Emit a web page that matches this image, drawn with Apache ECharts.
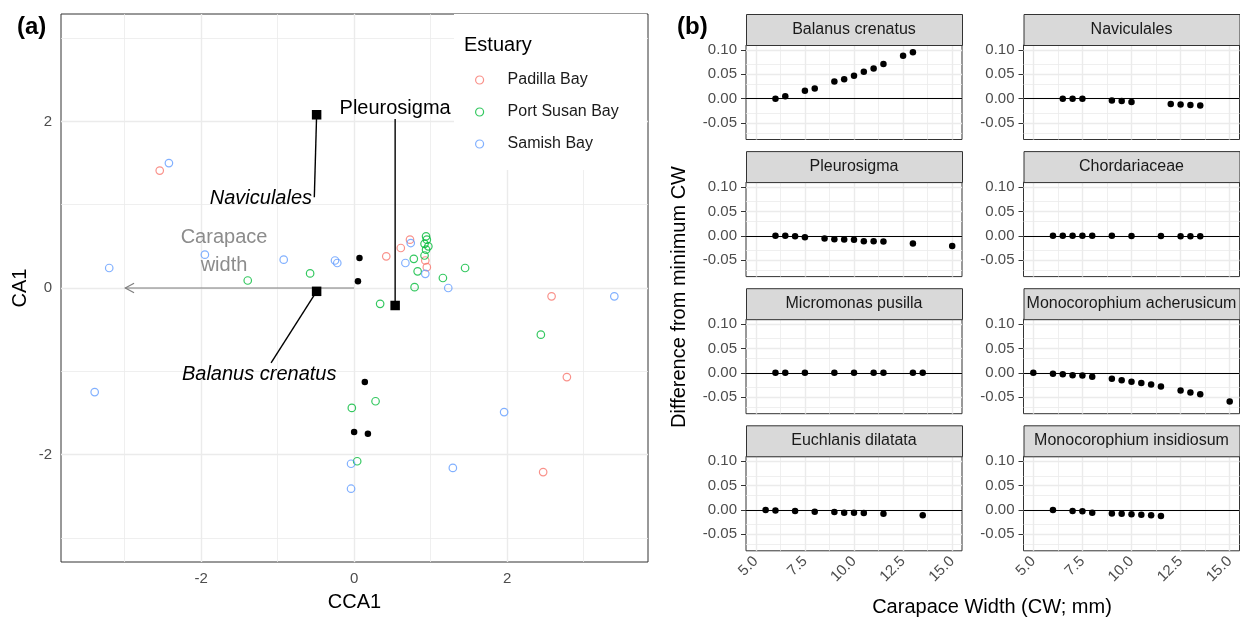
<!DOCTYPE html>
<html><head><meta charset="utf-8">
<script src="https://cdn.jsdelivr.net/npm/echarts@6/dist/echarts.min.js"></script>
<style>html,body{margin:0;padding:0;background:#fff}#c{width:1240px;height:617px}</style>
</head><body><div id="c"></div>
<script>
// ---------- Panel (a) data ----------
const estuaryNames = ['Padilla Bay', 'Port Susan Bay', 'Samish Bay'];
const padillaBay = [[-2.54,1.41],[0.42,0.38],[0.61,0.48],[0.73,0.58],[0.93,0.33],[0.95,0.25],[2.58,-0.10],[2.78,-1.07],[2.47,-2.21]];
const portSusanBay = [[-1.39,0.09],[-0.575,0.175],[0.78,0.35],[0.83,0.20],[0.79,0.01],[0.34,-0.19],[0.94,0.62],[0.95,0.58],[0.92,0.53],[0.97,0.50],[0.94,0.46],[0.92,0.39],[1.16,0.12],[1.45,0.24],[2.44,-0.56],[0.28,-1.36],[-0.03,-1.44],[0.04,-2.08]];
const samishBay = [[-2.42,1.50],[-3.20,0.24],[-1.95,0.40],[-0.92,0.34],[-0.25,0.33],[-0.22,0.30],[0.74,0.54],[0.67,0.30],[0.93,0.17],[1.23,0.00],[3.40,-0.10],[-3.39,-1.25],[1.96,-1.49],[1.29,-2.16],[-0.04,-2.11],[-0.04,-2.41]];
const sitePoints = [[0.07,0.36],[0.05,0.08],[0.14,-1.13],[0.00,-1.73],[0.18,-1.75]];
const speciesNames = ['Naviculales', 'Pleurosigma', 'Balanus crenatus'];
const speciesScores = [[-0.49,2.08],[0.536,-0.21],[-0.49,-0.04]];
const speciesSegmentEnds = [[-0.52,1.09],[0.536,2.03],[-1.085,-0.90]];
const speciesLabelPos = [[-0.55,1.07],[0.536,2.15],[-1.24,-1.04]];
const speciesItalic = [true, false, true];
const speciesAlign = ['right', 'center', 'center'];
const envVectorName = 'Carapace\nwidth';
const envVector = [-2.99, 0];
const envLabelPos = [-1.70, 0.44];
const aXTicks = [-2, 0, 2];
const aYTicks = [-2, 0, 2];
const aXMinor = [-3, -1, 1, 3];
const aYMinor = [-3, -1, 1, 3];

// ---------- Panel (b) data ----------
const facetNames = ['Balanus crenatus','Naviculales','Pleurosigma','Chordariaceae','Micromonas pusilla','Monocorophium acherusicum','Euchlanis dilatata','Monocorophium insidiosum'];
const balanusCW = [6,6.5,7.5,8,9,9.5,10,10.5,11,11.5,12.5,13];
const balanusDiff = [0,0.005,0.016,0.021,0.035,0.040,0.047,0.055,0.062,0.071,0.088,0.095];
const naviculalesCW = [6.5,7,7.5,9,9.5,10,12,12.5,13,13.5];
const naviculalesDiff = [0,0,0,-0.004,-0.005,-0.007,-0.011,-0.012,-0.013,-0.014];
const pleurosigmaCW = [6,6.5,7,7.5,8.5,9,9.5,10,10.5,11,11.5,13,15];
const pleurosigmaDiff = [0,0,-0.001,-0.003,-0.0055,-0.007,-0.0075,-0.008,-0.011,-0.011,-0.012,-0.016,-0.021];
const chordariaceaeCW = [6,6.5,7,7.5,8,9,10,11.5,12.5,13,13.5];
const chordariaceaeDiff = [0,0,0,0,0,0,-0.0005,-0.0005,-0.001,-0.001,-0.001];
const micromonasCW = [6,6.5,7.5,9,10,11,11.5,13,13.5];
const micromonasDiff = [0,0,0,0,0,0,0,0,0];
const acherusicumCW = [5,6,6.5,7,7.5,8,9,9.5,10,10.5,11,11.5,12.5,13,13.5,15];
const acherusicumDiff = [0,-0.002,-0.003,-0.005,-0.0055,-0.008,-0.012,-0.015,-0.018,-0.021,-0.024,-0.028,-0.036,-0.040,-0.044,-0.0586];
const euchlanisCW = [5.5,6,7,8,9,9.5,10,10.5,11.5,13.5];
const euchlanisDiff = [0,-0.001,-0.002,-0.0035,-0.004,-0.0055,-0.0055,-0.006,-0.008,-0.011];
const insidiosumCW = [6,7,7.5,8,9,9.5,10,10.5,11,11.5];
const insidiosumDiff = [0,-0.002,-0.0025,-0.0055,-0.007,-0.008,-0.009,-0.010,-0.011,-0.0125];
const bXTicks = [5, 7.5, 10, 12.5, 15];
const bXMinor = [6.25, 8.75, 11.25, 13.75];
const bYTicks = [-0.05, 0, 0.05, 0.10];
const bYMinor = [-0.075, -0.025, 0.025, 0.075];

const facetData = [
  [balanusCW, balanusDiff], [naviculalesCW, naviculalesDiff],
  [pleurosigmaCW, pleurosigmaDiff], [chordariaceaeCW, chordariaceaeDiff],
  [micromonasCW, micromonasDiff], [acherusicumCW, acherusicumDiff],
  [euchlanisCW, euchlanisDiff], [insidiosumCW, insidiosumDiff]
];

// ---------- styling / layout ----------
const FONT = '"Liberation Sans", Arial, sans-serif';
const estuaryColors = ['#F8766D', '#00BA38', '#619CFF'];
const BORDER = '#333333';
const GRIDC = '#EBEBEB';
const TICKLAB = '#4D4D4D';

const chart = echarts.init(document.getElementById('c'), null, {renderer: 'canvas'});

function gridLines(xMaj, xMin, yMaj, yMin, zeroLine) {
  const d = [];
  xMin.forEach(v => d.push({xAxis: v, lineStyle: {color: GRIDC, width: 0.8, type: 'solid'}}));
  yMin.forEach(v => d.push({yAxis: v, lineStyle: {color: GRIDC, width: 0.8, type: 'solid'}}));
  xMaj.forEach(v => d.push({xAxis: v, lineStyle: {color: GRIDC, width: 1.4, type: 'solid'}}));
  yMaj.forEach(v => d.push({yAxis: v, lineStyle: {color: GRIDC, width: 1.4, type: 'solid'}}));
  if (zeroLine) d.push({yAxis: 0, lineStyle: {color: '#000', width: 1.1, type: 'solid'}});
  return {silent: true, z: 1, symbol: ['none', 'none'], label: {show: false}, animation: false, data: d};
}

const grids = [{left: 61, top: 14, width: 587, height: 553, show: true, borderColor: BORDER, borderWidth: 1, backgroundColor: '#fff'}];
const xAxes = [{
  gridIndex: 0, type: 'value', min: -3.83, max: 3.84,
  name: 'CCA1', nameLocation: 'middle', nameGap: 30,
  nameTextStyle: {fontFamily: FONT, fontSize: 20, color: '#000'},
  axisLine: {show: false}, splitLine: {show: false},
  axisTick: {show: true, customValues: aXTicks, length: 5, lineStyle: {color: BORDER}},
  axisLabel: {customValues: aXTicks, fontFamily: FONT, fontSize: 15, color: TICKLAB, margin: 9}
}];
const yAxes = [{
  gridIndex: 0, type: 'value', min: -3.29, max: 3.29,
  name: 'CA1', nameLocation: 'middle', nameGap: 31, nameRotate: 90,
  nameTextStyle: {fontFamily: FONT, fontSize: 20, color: '#000'},
  axisLine: {show: false}, splitLine: {show: false},
  axisTick: {show: true, customValues: aYTicks, length: 5, lineStyle: {color: BORDER}},
  axisLabel: {customValues: aYTicks, fontFamily: FONT, fontSize: 15, color: TICKLAB, margin: 9}
}];

const series = [];
series.push({type: 'scatter', xAxisIndex: 0, yAxisIndex: 0, data: [], z: 1,
  markLine: gridLines(aXTicks, aXMinor, aYTicks, aYMinor, false)});

[padillaBay, portSusanBay, samishBay].forEach((arr, i) => {
  series.push({
    name: estuaryNames[i], type: 'scatter', xAxisIndex: 0, yAxisIndex: 0, data: arr,
    symbol: 'circle', symbolSize: 7.5, z: 3,
    itemStyle: {color: 'rgba(255,255,255,0)', borderColor: estuaryColors[i], borderWidth: 1.2, opacity: 0.8}
  });
});
series.push({type: 'scatter', xAxisIndex: 0, yAxisIndex: 0, data: sitePoints, symbol: 'circle', symbolSize: 6.5, z: 4, itemStyle: {color: '#000', opacity: 1}});

// carapace width vector (arrow)
series.push({
  type: 'custom', xAxisIndex: 0, yAxisIndex: 0, z: 4, silent: true,
  data: [[0, 0, envVector[0], envVector[1]]],
  renderItem: function (params, api) {
    const p1 = api.coord([api.value(0), api.value(1)]);
    const p2 = api.coord([api.value(2), api.value(3)]);
    const ang = Math.atan2(p2[1] - p1[1], p2[0] - p1[0]);
    const L = 10, A = 0.5;
    const h1 = [p2[0] - L * Math.cos(ang - A), p2[1] - L * Math.sin(ang - A)];
    const h2 = [p2[0] - L * Math.cos(ang + A), p2[1] - L * Math.sin(ang + A)];
    return {type: 'group', children: [
      {type: 'line', shape: {x1: p1[0], y1: p1[1], x2: p2[0], y2: p2[1]}, style: {stroke: '#7F7F7F', lineWidth: 1.2}},
      {type: 'polyline', shape: {points: [h1, p2, h2]}, style: {stroke: '#7F7F7F', lineWidth: 1.2, fill: null}}
    ]};
  }
});
// label segments
series.push({
  type: 'custom', xAxisIndex: 0, yAxisIndex: 0, z: 4, silent: true,
  data: speciesScores.map((s, i) => [s[0], s[1], speciesSegmentEnds[i][0], speciesSegmentEnds[i][1]]),
  renderItem: function (params, api) {
    const p1 = api.coord([api.value(0), api.value(1)]);
    const p2 = api.coord([api.value(2), api.value(3)]);
    return {type: 'line', shape: {x1: p1[0], y1: p1[1], x2: p2[0], y2: p2[1]}, style: {stroke: '#000', lineWidth: 1.4}};
  }
});
series.push({type: 'scatter', xAxisIndex: 0, yAxisIndex: 0, data: speciesScores, symbol: 'rect', symbolSize: 9.5, z: 5, itemStyle: {color: '#000', opacity: 1}});
// species labels
series.push({
  type: 'custom', xAxisIndex: 0, yAxisIndex: 0, z: 6, silent: true,
  data: speciesLabelPos,
  renderItem: function (params, api) {
    const i = params.dataIndex;
    const p = api.coord([api.value(0), api.value(1)]);
    return {type: 'text', x: p[0], y: p[1], style: {
      text: speciesNames[i], fontFamily: FONT, fontSize: 20, fontStyle: speciesItalic[i] ? 'italic' : 'normal',
      fill: '#000', align: speciesAlign[i], verticalAlign: 'middle'}};
  }
});
// env vector label
series.push({
  type: 'custom', xAxisIndex: 0, yAxisIndex: 0, z: 6, silent: true,
  data: [envLabelPos],
  renderItem: function (params, api) {
    const p = api.coord([api.value(0), api.value(1)]);
    return {type: 'text', x: p[0], y: p[1], style: {
      text: envVectorName, fontFamily: FONT, fontSize: 20, lineHeight: 28,
      fill: '#8C8C8C', align: 'center', verticalAlign: 'middle'}};
  }
});

// ---------- Panel (b) facets ----------
const colLeft = [746, 1023.5];
const panelW = 216, panelH = 94.5, rowStep = 137.1, firstTop = 45, stripH = 31;
const graphics = [];
facetNames.forEach((name, i) => {
  const col = i % 2, row = Math.floor(i / 2);
  const gi = i + 1;
  const top = firstTop + row * rowStep;
  grids.push({left: colLeft[col], top: top, width: panelW, height: panelH, show: true, borderColor: BORDER, borderWidth: 1, backgroundColor: '#fff'});
  const bottomRow = row === 3;
  xAxes.push({
    gridIndex: gi, type: 'value', min: 4.5, max: 15.5,
    axisLine: {show: false}, splitLine: {show: false},
    axisTick: {show: bottomRow, customValues: bXTicks, length: 5, lineStyle: {color: BORDER}},
    axisLabel: {show: bottomRow, customValues: bXTicks, rotate: 45, formatter: v => Number(v).toFixed(1),
      fontFamily: FONT, fontSize: 15, color: TICKLAB, margin: 8}
  });
  yAxes.push({
    gridIndex: gi, type: 'value', min: -0.0837, max: 0.110,
    axisLine: {show: false}, splitLine: {show: false},
    axisTick: {show: true, customValues: bYTicks, length: 5, lineStyle: {color: BORDER}},
    axisLabel: {customValues: bYTicks, formatter: v => Number(v).toFixed(2),
      fontFamily: FONT, fontSize: 15, color: TICKLAB, margin: 9}
  });
  series.push({type: 'scatter', xAxisIndex: gi, yAxisIndex: gi, data: [], z: 1,
    markLine: gridLines(bXTicks, bXMinor, bYTicks, bYMinor, true)});
  const cw = facetData[i][0], df = facetData[i][1];
  series.push({type: 'scatter', xAxisIndex: gi, yAxisIndex: gi, z: 3,
    data: cw.map((v, k) => [v, df[k]]), symbol: 'circle', symbolSize: 6.5, itemStyle: {color: '#000', opacity: 1}});
  graphics.push({type: 'rect', left: colLeft[col], top: top - stripH, z: 10,
    shape: {width: panelW, height: stripH}, style: {fill: '#D9D9D9', stroke: BORDER, lineWidth: 1}});
  graphics.push({type: 'text', x: colLeft[col] + panelW / 2, y: top - stripH / 2, z: 11,
    style: {text: name, fontFamily: FONT, fontSize: 16, fill: '#1A1A1A', align: 'center', verticalAlign: 'middle'}});
});

graphics.push({type: 'text', x: 17, y: 27, z: 20, style: {text: '(a)', fontFamily: FONT, fontSize: 24, fontWeight: 'bold', fill: '#000', align: 'left', verticalAlign: 'middle'}});
graphics.push({type: 'text', x: 677, y: 27, z: 20, style: {text: '(b)', fontFamily: FONT, fontSize: 24, fontWeight: 'bold', fill: '#000', align: 'left', verticalAlign: 'middle'}});
graphics.push({type: 'text', x: 464, y: 45, z: 20, style: {text: 'Estuary', fontFamily: FONT, fontSize: 20, fill: '#000', align: 'left', verticalAlign: 'middle'}});
graphics.push({type: 'text', x: 992, y: 607, z: 20, style: {text: 'Carapace Width (CW; mm)', fontFamily: FONT, fontSize: 20, fill: '#000', align: 'center', verticalAlign: 'middle'}});
graphics.push({type: 'text', x: 679, y: 297, z: 20, rotation: Math.PI / 2, style: {text: 'Difference from minimum CW', fontFamily: FONT, fontSize: 20, fill: '#000', align: 'center', verticalAlign: 'middle'}});

chart.setOption({
  animation: false,
  backgroundColor: '#fff',
  grid: grids, xAxis: xAxes, yAxis: yAxes, series: series,
  legend: {
    data: estuaryNames, orient: 'vertical', left: 454, top: 14,
    padding: [58, 28, 18, 21], itemGap: 16, itemWidth: 40, itemHeight: 8,
    backgroundColor: '#fff', selectedMode: false, icon: 'circle',
    itemStyle: {borderWidth: 1.2},
    textStyle: {fontFamily: FONT, fontSize: 16, color: '#1A1A1A', lineHeight: 16, padding: [0, 0, 0, 3]}
  },
  graphic: graphics
});
</script></body></html>
